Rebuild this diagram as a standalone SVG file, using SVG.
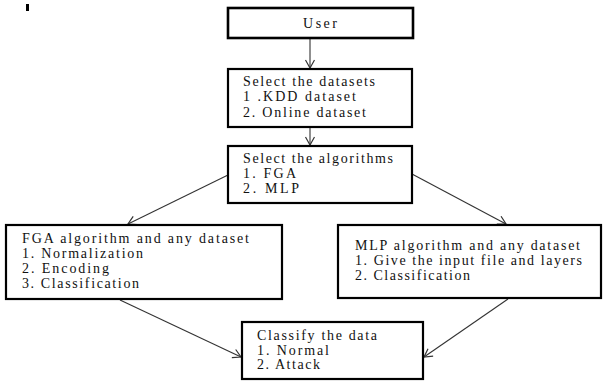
<svg xmlns="http://www.w3.org/2000/svg" width="603" height="382" viewBox="0 0 603 382">
<style>
.box{fill:#fff;stroke:#000;stroke-width:2.2}
.t{font-family:"Liberation Serif","Times New Roman",serif;font-size:14px;fill:#111}
.c{fill:none;stroke:#333;stroke-width:1.1}
</style>
<defs>
<marker id="ah" markerUnits="userSpaceOnUse" markerWidth="12" markerHeight="12" refX="9" refY="5" orient="auto">
<path d="M1,0.5 L9,5 L1,9.5" fill="none" stroke="#333" stroke-width="1.2"/>
</marker>
</defs>
<rect x="26" y="4" width="3" height="7" fill="#000"/>
<g id="connectors">
<line class="c" x1="310" y1="39" x2="310" y2="68" marker-end="url(#ah)"/>
<line class="c" x1="310" y1="128" x2="310" y2="145" marker-end="url(#ah)"/>
<line class="c" x1="228" y1="175" x2="128" y2="224" marker-end="url(#ah)"/>
<line class="c" x1="412" y1="174" x2="506" y2="224" marker-end="url(#ah)"/>
<line class="c" x1="120" y1="300" x2="241" y2="357" marker-end="url(#ah)"/>
<line class="c" x1="508" y1="299" x2="424" y2="357" marker-end="url(#ah)"/>
</g>
<g id="user">
<rect class="box" x="228" y="8" width="185" height="30" style="stroke-width:2.6"/>
<text class="t" x="303" y="28" textLength="34" lengthAdjust="spacing">User</text>
</g>
<g id="datasets">
<rect class="box" x="228" y="69" width="184" height="58"/>
<text class="t" x="243" y="86" textLength="132" lengthAdjust="spacing">Select the datasets</text>
<text class="t" x="243" y="101" textLength="113" lengthAdjust="spacing">1 .KDD dataset</text>
<text class="t" x="243" y="117" textLength="123" lengthAdjust="spacing">2. Online dataset</text>
</g>
<g id="algorithms">
<rect class="box" x="228" y="146" width="184" height="57"/>
<text class="t" x="243" y="163" textLength="150" lengthAdjust="spacing">Select the algorithms</text>
<text class="t" x="243" y="178" textLength="53" lengthAdjust="spacing">1. FGA</text>
<text class="t" x="243" y="193" textLength="56" lengthAdjust="spacing">2. MLP</text>
</g>
<g id="fga">
<rect class="box" x="6" y="225" width="276" height="74"/>
<text class="t" x="22" y="243" textLength="227" lengthAdjust="spacing">FGA  algorithm and any dataset</text>
<text class="t" x="22" y="258" textLength="121" lengthAdjust="spacing">1. Normalization</text>
<text class="t" x="22" y="273" textLength="87" lengthAdjust="spacing">2. Encoding</text>
<text class="t" x="22" y="288" textLength="117" lengthAdjust="spacing">3. Classification</text>
</g>
<g id="mlp">
<rect class="box" x="338" y="225" width="263" height="73"/>
<text class="t" x="355" y="250" textLength="225" lengthAdjust="spacing">MLP algorithm and any dataset</text>
<text class="t" x="355" y="265" textLength="227" lengthAdjust="spacing">1. Give the input file and layers</text>
<text class="t" x="355" y="280" textLength="115" lengthAdjust="spacing">2. Classification</text>
</g>
<g id="classify">
<rect class="box" x="242" y="322" width="181" height="57"/>
<text class="t" x="257" y="340" textLength="120" lengthAdjust="spacing">Classify the data</text>
<text class="t" x="257" y="355" textLength="72" lengthAdjust="spacing">1. Normal</text>
<text class="t" x="257" y="369" textLength="63" lengthAdjust="spacing">2. Attack</text>
</g>
</svg>
